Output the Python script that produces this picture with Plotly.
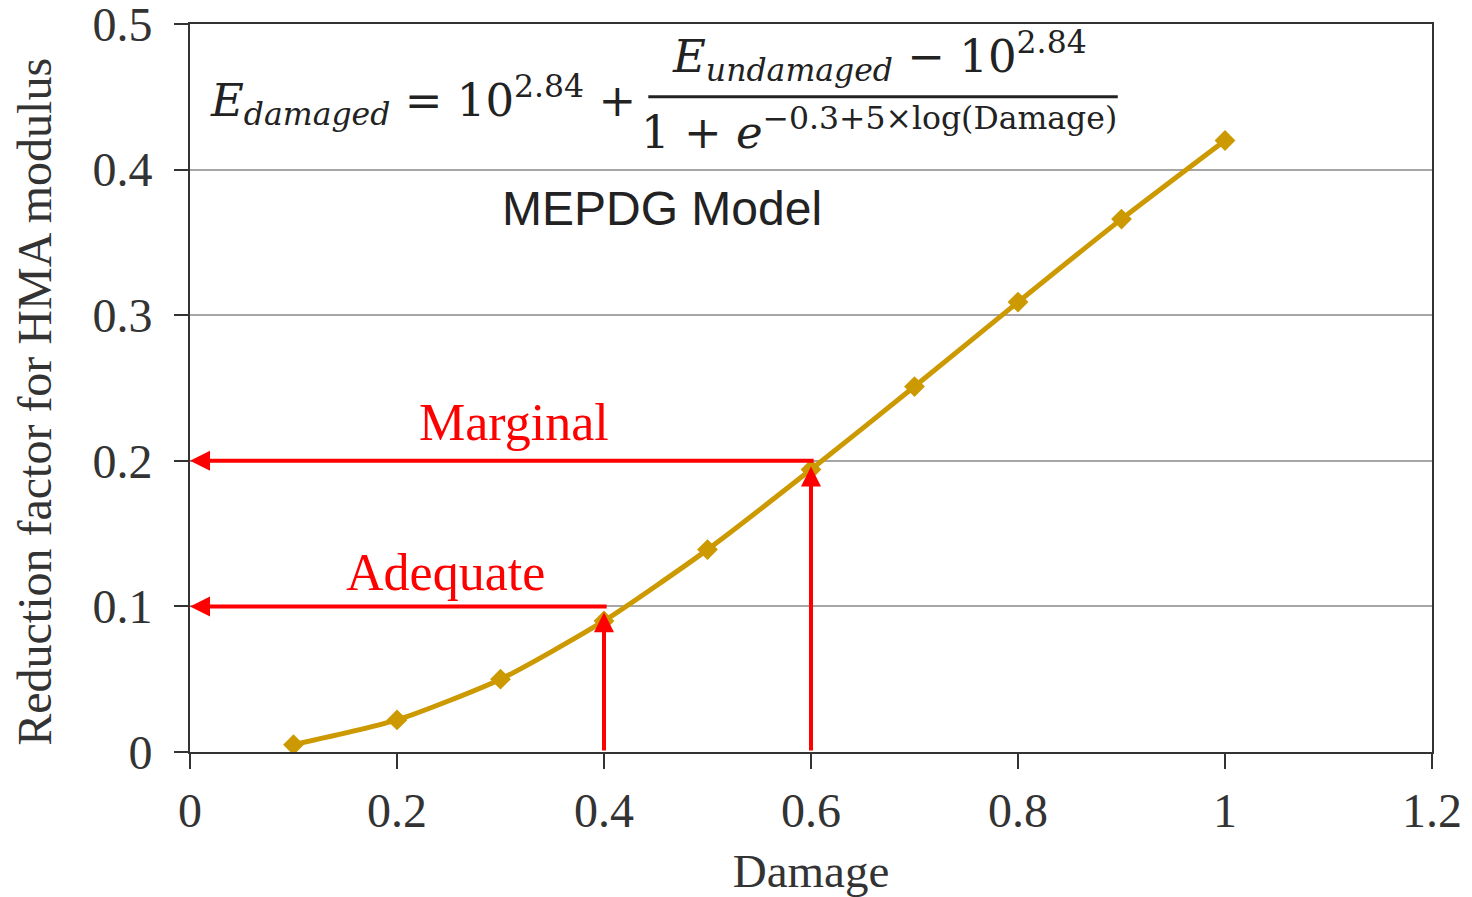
import plotly.graph_objects as go

# ---- data ----
damage = [0.1, 0.2, 0.3, 0.4, 0.5, 0.6, 0.7, 0.8, 0.9, 1.0]
reduction_factor = [0.005, 0.022, 0.050, 0.090, 0.139, 0.194, 0.251, 0.309, 0.366, 0.420]

threshold_labels = ["Adequate", "Marginal"]
threshold_damage = [0.4, 0.6]
threshold_factor = [0.1, 0.2]
arrow_tip_factor = [0.096, 0.196]

x_ticks = [0, 0.2, 0.4, 0.6, 0.8, 1.0, 1.2]
x_tick_text = ["0", "0.2", "0.4", "0.6", "0.8", "1", "1.2"]
y_ticks = [0, 0.1, 0.2, 0.3, 0.4, 0.5]
y_tick_text = ["0", "0.1", "0.2", "0.3", "0.4", "0.5"]

LINE_COLOR = "#CC9900"
RED = "#FF0000"
TXT = "#333333"
SERIF = "Liberation Serif, Times New Roman, serif"
MATH = "DejaVu Serif, serif"

fig = go.Figure()
fig.add_trace(go.Scatter(
    x=damage, y=reduction_factor, mode="lines+markers",
    line=dict(color=LINE_COLOR, width=5, shape="spline", smoothing=0.6),
    marker=dict(symbol="diamond", size=16, color=LINE_COLOR),
    showlegend=False, hoverinfo="x+y",
))

annotations = []
# threshold arrows
for lab, d, f, tip in zip(threshold_labels, threshold_damage, threshold_factor, arrow_tip_factor):
    annotations.append(dict(
        x=0, y=f, ax=d + 0.004, ay=f, xref="x", yref="y", axref="x", ayref="y",
        showarrow=True, arrowhead=2, arrowsize=1.0, arrowwidth=4, arrowcolor=RED,
        text="", standoff=0, startstandoff=0,
    ))
    annotations.append(dict(
        x=d, y=tip, ax=d, ay=0, xref="x", yref="y", axref="x", ayref="y",
        showarrow=True, arrowhead=2, arrowsize=1.0, arrowwidth=4, arrowcolor=RED,
        text="", standoff=0, startstandoff=0,
    ))

annotations.append(dict(x=0.313, y=0.2266, xref="x", yref="y", text="Marginal",
                        showarrow=False, font=dict(family=SERIF, size=52, color=RED)))
annotations.append(dict(x=0.247, y=0.123, xref="x", yref="y", text="Adequate",
                        showarrow=False, font=dict(family=SERIF, size=52, color=RED)))

annotations.append(dict(x=0.380, y=0.747, xref="paper", yref="paper", xanchor="center", yanchor="middle",
                        text="MEPDG Model", showarrow=False,
                        font=dict(family="Liberation Sans, Arial, sans-serif", size=48, color="#222222")))

# y-axis title placed as rotated text
annotations.append(dict(x=-0.1248, y=0.481, xref="paper", yref="paper", xanchor="center", yanchor="middle",
                        text="Reduction factor for HMA modulus", textangle=-90, showarrow=False,
                        font=dict(family=SERIF, size=48, color=TXT)))

# formula
FS = 45
annotations.append(dict(
    x=0.372, y=0.895, xref="paper", yref="paper", xanchor="right", yanchor="middle",
    text="<i>E</i><sub><i>damaged</i></sub> = 10<sup>2.84</sup> + ",
    showarrow=False, font=dict(family=MATH, size=FS, color="#222222")))
annotations.append(dict(
    x=0.555, y=0.910, xref="paper", yref="paper", xanchor="center", yanchor="bottom",
    text="<i>E</i><sub><i>undamaged</i></sub> − 10<sup>2.84</sup>",
    showarrow=False, font=dict(family=MATH, size=FS, color="#222222")))
annotations.append(dict(
    x=0.555, y=0.898, xref="paper", yref="paper", xanchor="center", yanchor="top",
    text="1 + <i>e</i><sup>−0.3+5×log(Damage)</sup>",
    showarrow=False, font=dict(family=MATH, size=FS, color="#222222")))

shapes = [dict(type="line", xref="paper", yref="paper", x0=0.369, x1=0.747, y0=0.900, y1=0.900,
               line=dict(color="#222222", width=3))]

fig.update_layout(
    width=1464, height=889,
    margin=dict(l=182, r=40, t=16, b=145, autoexpand=False),
    paper_bgcolor="white", plot_bgcolor="white",
    annotations=annotations, shapes=shapes,
    xaxis=dict(
        range=[0, 1.2], tickvals=x_ticks, ticktext=x_tick_text,
        showgrid=False, zeroline=False,
        showline=True, mirror=True, linecolor="#333333", linewidth=2,
        ticks="outside", ticklen=15, tickwidth=2, tickcolor="#333333",
        tickfont=dict(family=SERIF, size=48, color=TXT), ticklabelstandoff=0,
        ticklabeloverflow="allow", automargin=False,
        title=dict(text="Damage", font=dict(family=SERIF, size=47, color=TXT), standoff=19),
    ),
    yaxis=dict(
        range=[0, 0.5], tickvals=y_ticks, ticktext=y_tick_text,
        showgrid=True, gridcolor="#A6A6A6", gridwidth=1.5, zeroline=False,
        showline=True, mirror=True, linecolor="#333333", linewidth=2,
        ticks="outside", ticklen=14, tickwidth=2, tickcolor="#333333",
        tickfont=dict(family=SERIF, size=48, color=TXT), ticklabelstandoff=12,
        ticklabeloverflow="allow", automargin=False,
    ),
)

fig.write_html("out.html")
